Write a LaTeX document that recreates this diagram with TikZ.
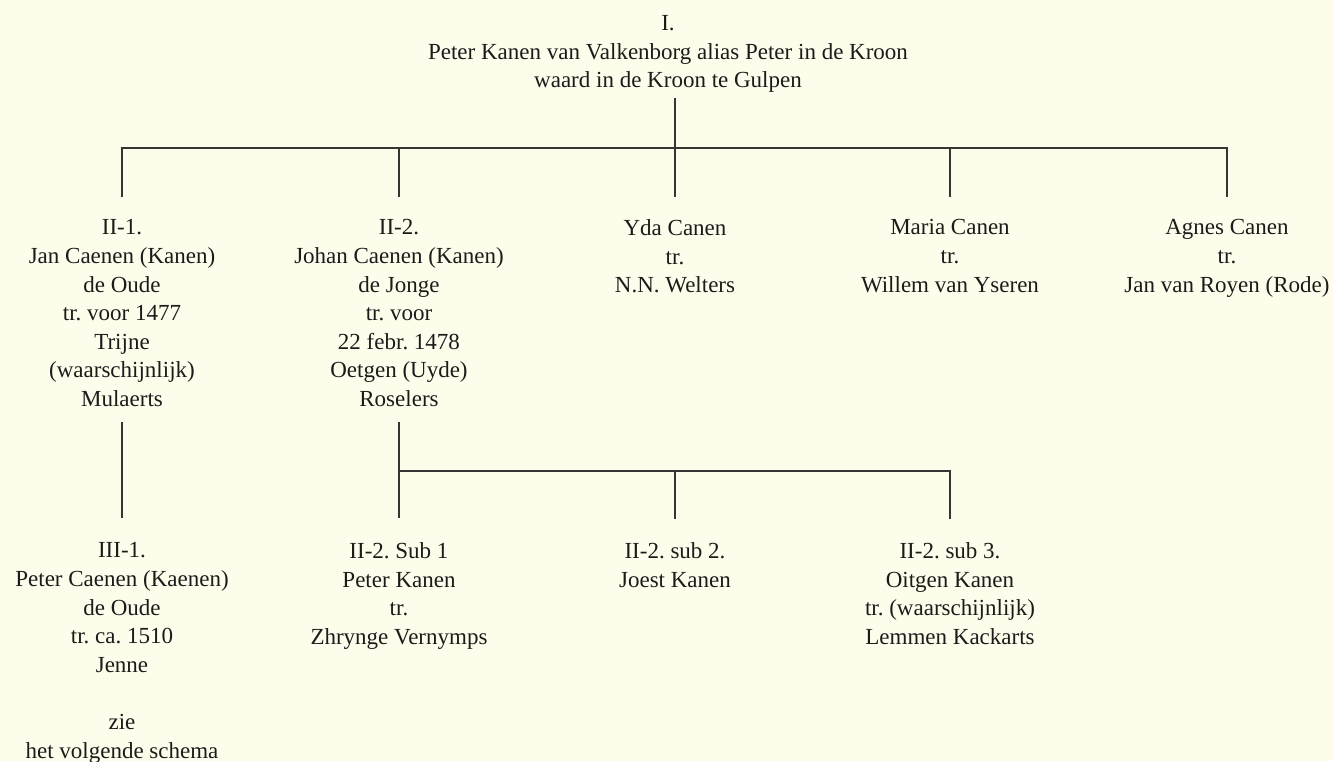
\documentclass[tikz,border=0pt]{standalone}
\usepackage{fontspec}
\setmainfont{Liberation Serif}
\frenchspacing
\definecolor{bg}{RGB}{254,253,236}
\definecolor{ink}{RGB}{28,27,26}
\definecolor{linec}{RGB}{55,53,51}
\begin{document}
\begin{tikzpicture}[x=1pt,y=-1pt,
  person/.style={align=center, inner sep=0pt, anchor=north,
    font=\fontsize{23}{28.6}\selectfont\frenchspacing, text=ink},
  conn/.style={draw=linec, line width=1.2pt}]
\fill[bg] (0,0) rectangle (1333,761);
\useasboundingbox (0,0) rectangle (1333,761);

% generation I
\node[person] (p0) at (668,15.5) {I.\\Peter Kanen van Valkenborg alias Peter in de Kroon\\waard in de Kroon te Gulpen};

% generation II
\node[person] (c1) at (122,219.5) {II-1.\\Jan Caenen (Kanen)\\de Oude\\tr. voor 1477\\Trijne\\(waarschijnlijk)\\Mulaerts};
\node[person] (c2) at (399,219.5) {II-2.\\Johan Caenen (Kanen)\\de Jonge\\tr. voor\\22 febr. 1478\\Oetgen (Uyde)\\Roselers};
\node[person] (c3) at (675,219.5) {Yda Canen\\tr.\\N.N. Welters};
\node[person] (c4) at (950,219.5) {Maria Canen\\tr.\\Willem van Yseren};
\node[person] (c5) at (1227,219.5) {Agnes Canen\\tr.\\Jan van Royen (Rode)};

% generation III
\node[person] (g1) at (122,542.5) {III-1.\\Peter Caenen (Kaenen)\\de Oude\\tr. ca. 1510\\Jenne\\[28.6pt]zie\\het volgende schema};
\node[person] (g2) at (399,542.5) {II-2. Sub 1\\Peter Kanen\\tr.\\Zhrynge Vernymps};
\node[person] (g3) at (675,542.5) {II-2. sub 2.\\Joest Kanen};
\node[person] (g4) at (950,542.5) {II-2. sub 3.\\Oitgen Kanen\\tr. (waarschijnlijk)\\Lemmen Kackarts};

% connectors, level I -> II
\coordinate (b1) at (675,148);
\draw[conn, shorten <=5pt] (p0.south -| b1) -- (b1);
\draw[conn, shorten <=22.5pt, shorten >=22.5pt] (c1.north) |- (b1) -| (c5.north);
\draw[conn, shorten >=22.5pt] (c2.north |- b1) -- (c2.north);
\draw[conn, shorten >=22.5pt] (c3.north |- b1) -- (c3.north);
\draw[conn, shorten >=22.5pt] (c4.north |- b1) -- (c4.north);

% connectors, level II -> III
\coordinate (b2) at (399,471);
\draw[conn, shorten <=15pt, shorten >=24.5pt] (c1.south) -- (g1.north);
\draw[conn, shorten <=15pt, shorten >=24.5pt] (c2.south) -- (g2.north);
\draw[conn, shorten >=23.5pt] (b2) -| (g4.north);
\draw[conn, shorten >=23.5pt] (b2 -| g3.north) -- (g3.north);
\end{tikzpicture}
\end{document}
